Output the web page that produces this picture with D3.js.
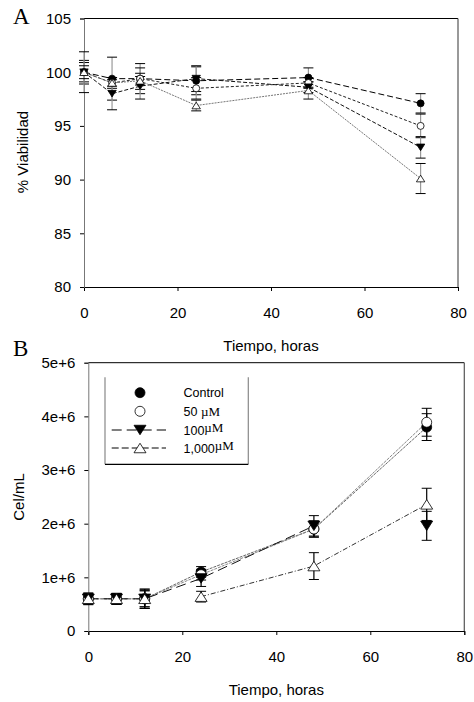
<!DOCTYPE html>
<html><head><meta charset="utf-8">
<script src="https://cdn.jsdelivr.net/npm/d3@7"></script>
<style>body{margin:0;background:#fff}svg{display:block}</style>
</head><body>
<svg id="c" width="474" height="702" font-family="Liberation Sans, Arial, sans-serif"></svg>
<script>
// ---------- DATA ----------
const times = [0, 6, 12, 24, 48, 72];
const seriesNames = ["Control", "50 µM", "100 µM", "1,000 µM"];
// Panel A: % viability
const viabControl = [100, 99.4, 99.4, 99.2, 99.5, 97.1];
const viab50      = [100, 99.0, 99.4, 98.5, 99.0, 95.0];
const viab100     = [100, 98.0, 98.7, 99.4, 98.6, 93.0];
const viab1000    = [100, 99.0, 99.2, 96.9, 98.3, 90.1];
const viabErrControl = [1.1, 2.0, 1.4, 1.3, 0.9, 0.9];
const viabErr50      = [0.9, 0.5, 1.0, 1.0, 0.5, 1.1];
const viabErr100     = [1.9, 1.5, 1.2, 1.2, 0.5, 1.0];
const viabErr1000    = [0.6, 0.3, 0.4, 0.5, 0.8, 1.4];
// Panel B: cells per mL
const cellControl = [0.6e6, 0.6e6, 0.6e6, 1.10e6, 1.90e6, 3.80e6];
const cell50      = [0.6e6, 0.6e6, 0.6e6, 1.05e6, 1.90e6, 3.89e6];
const cell100     = [0.6e6, 0.6e6, 0.6e6, 0.98e6, 1.96e6, 1.96e6];
const cell1000    = [0.6e6, 0.6e6, 0.6e6, 0.64e6, 1.21e6, 2.36e6];
const cellErrControl = [0.10e6, 0.10e6, 0.15e6, 0.10e6, 0.15e6, 0.25e6];
const cellErr50      = [0.08e6, 0.10e6, 0.18e6, 0.10e6, 0.15e6, 0.26e6];
const cellErr100     = [0.11e6, 0.10e6, 0.15e6, 0.15e6, 0.19e6, 0.27e6];
const cellErr1000    = [0.10e6, 0.10e6, 0.18e6, 0.10e6, 0.25e6, 0.30e6];
const lineStartB = [0, 0, 0, 3];
const lineEndB   = [5, 5, 4, 5];
const xTicks = [0, 20, 40, 60, 80];
const yTicksA = [80, 85, 90, 95, 100, 105];
const yTicksB = [0, 1e6, 2e6, 3e6, 4e6, 5e6];

// ---------- STYLE ----------
const SANS = "Liberation Sans, Arial, sans-serif";
const SERIF = "Liberation Serif, Times New Roman, serif";
const markers = ["circleF", "circleO", "triDown", "triUp"];
const dashA = ["6,3", "3,2", "4,2", "2,1"];
const colA  = ["#000", "#222", "#111", "#777"];
const dashB = ["3,1", "3,1", "10,5", "5,2,1,2"];
const colB  = ["#666", "#888", "#111", "#333"];

const svg = d3.select("#c");

function marker(g, type, x, y, s) {
  if (type === "circleF" || type === "circleO") {
    g.append("circle").attr("cx", x).attr("cy", y).attr("r", s)
      .attr("fill", type === "circleF" ? "#000" : "#fff").attr("stroke", "#000").attr("stroke-width", 0.8);
  } else {
    const h = s * 1.9, w = s * 1.2;
    const pts = type === "triDown"
      ? [[x - w, y - h / 2], [x + w, y - h / 2], [x, y + h / 2]]
      : [[x - w, y + h / 2], [x + w, y + h / 2], [x, y - h / 2]];
    g.append("path").attr("d", "M" + pts.map(p => p.join(",")).join("L") + "Z")
      .attr("fill", type === "triDown" ? "#000" : "#fff").attr("stroke", "#000").attr("stroke-width", 0.8);
  }
}

function panel(o) {
  const x = d3.scaleLinear().domain([0, 80]).range([o.left, o.right]);
  const y = d3.scaleLinear().domain(o.ydom).range([o.bottom, o.top]);
  const g = svg.append("g");
  // frame
  g.append("line").attr("x1", o.left).attr("x2", o.right).attr("y1", o.top).attr("y2", o.top).attr("stroke", "#000");
  g.append("line").attr("x1", o.right).attr("x2", o.right).attr("y1", o.top).attr("y2", o.bottom).attr("stroke", "#555").attr("stroke-width", 1.2);
  // axes
  const ax = g.append("g").attr("transform", `translate(0,${o.bottom})`)
    .call(d3.axisBottom(x).tickValues(xTicks).tickSize(4).tickPadding(16).tickFormat(d3.format("d")));
  ax.attr("font-family", null).attr("font-size", null);
  ax.select(".domain").attr("stroke", "#000");
  ax.selectAll("line").attr("stroke", "#000");
  ax.selectAll("text").attr("font-size", 15).attr("fill", "#000").attr("font-family", SANS);
  const ay = g.append("g").attr("transform", `translate(${o.left},0)`)
    .call(d3.axisLeft(y).tickValues(o.yTicks).tickSize(4).tickPadding(9).tickFormat(o.yfmt));
  ay.attr("font-family", null).attr("font-size", null);
  ay.select(".domain").attr("stroke", "#777");
  ay.selectAll("line").attr("stroke", "#000");
  ay.selectAll("text").attr("font-size", 15).attr("fill", "#000").attr("font-family", SANS);
  // titles
  g.append("text").attr("x", (o.left + o.right) / 2).attr("y", o.bottom + 64).attr("text-anchor", "middle")
    .attr("font-size", 15).attr("font-family", SANS).text("Tiempo, horas");
  g.append("text").attr("transform", `translate(${o.ytx},${o.yty}) rotate(-90)`).attr("text-anchor", "middle")
    .attr("font-size", 15).attr("font-family", SANS).text(o.ytitle);
  g.append("text").attr("x", o.lx).attr("y", o.ly).attr("font-family", SERIF)
    .attr("font-size", 23).text(o.letter);
  // lines
  o.vals.forEach((v, si) => {
    const st = o.start ? o.start[si] : 0, en = o.end ? o.end[si] : times.length - 1;
    const line = d3.line().defined((d, i) => i >= st && i <= en).x((d, i) => x(times[i])).y(d => y(d));
    g.append("path").attr("d", line(v)).attr("fill", "none").attr("stroke", o.cols[si])
      .attr("stroke-width", 1).attr("stroke-dasharray", o.dash[si]);
  });
  // error bars
  o.vals.forEach((v, si) => {
    v.forEach((d, i) => {
      const e = o.errs[si][i], cx = x(times[i]);
      g.append("line").attr("x1", cx).attr("x2", cx).attr("y1", y(d - e)).attr("y2", y(d + e))
        .attr("stroke", o.ebCol).attr("stroke-width", 1.2);
      [d - e, d + e].forEach(t => g.append("line").attr("x1", cx - 5).attr("x2", cx + 5)
        .attr("y1", y(t)).attr("y2", y(t)).attr("stroke", "#000").attr("stroke-width", 1));
    });
  });
  // markers
  [0, 1, 2, 3].forEach(si => {
    o.vals[si].forEach((d, i) => marker(g, markers[si], x(times[i]), y(d), o.ms));
  });
  return {x, y, g};
}

panel({
  left: 84, right: 458, top: 18.5, bottom: 287, ydom: [80, 105], yTicks: yTicksA, yfmt: d3.format("d"),
  vals: [viabControl, viab50, viab100, viab1000], errs: [viabErrControl, viabErr50, viabErr100, viabErr1000],
  dash: dashA, cols: colA, ebCol: "#999", ms: 3.5,
  ytitle: "% Viabilidad", ytx: 28, yty: 152, letter: "A", lx: 13, ly: 24
});

panel({
  left: 88.3, right: 464.3, top: 362.7, bottom: 631, ydom: [0, 5e6], yTicks: yTicksB,
  yfmt: d => d === 0 ? "0" : (d / 1e6) + "e+6",
  vals: [cellControl, cell50, cell100, cell1000], errs: [cellErrControl, cellErr50, cellErr100, cellErr1000],
  start: lineStartB, end: lineEndB,
  dash: dashB, cols: colB, ebCol: "#000", ms: 5,
  ytitle: "Cel/mL", ytx: 24, yty: 497, letter: "B", lx: 13, ly: 356
});

// legend
const lg = svg.append("g");
const L = {l: 105, r: 248.3, t: 377.3, b: 464.3};
lg.append("rect").attr("x", L.l).attr("y", L.t).attr("width", L.r - L.l).attr("height", L.b - L.t).attr("fill", "#fff").attr("stroke", "none");
lg.append("line").attr("x1", L.l).attr("x2", L.l).attr("y1", L.t).attr("y2", L.b).attr("stroke", "#888").attr("stroke-width", 1.2);
lg.append("line").attr("x1", L.r).attr("x2", L.r).attr("y1", L.t).attr("y2", L.b).attr("stroke", "#888").attr("stroke-width", 1.2);
lg.append("line").attr("x1", L.l).attr("x2", L.r).attr("y1", L.b).attr("y2", L.b).attr("stroke", "#000").attr("stroke-width", 1.2);
const rowsY = [392.7, 411.3, 430, 448];
seriesNames.forEach((name, si) => {
  const yy = rowsY[si];
  if (si >= 2) {
    lg.append("line").attr("x1", 111.7).attr("x2", 166).attr("y1", yy).attr("y2", yy)
      .attr("stroke", "#000").attr("stroke-width", 1).attr("stroke-dasharray", si === 2 ? "10,5" : "7,3");
  }
  marker(lg, markers[si], 140, yy, 5);
  const t = lg.append("text").attr("x", 183.5).attr("y", yy + 4.5).attr("font-size", 12.5).attr("font-family", SANS);
  if (si === 0) t.text(name);
  else {
    const parts = name.split(" ");
    t.append("tspan").text(parts[0] + (si === 1 ? " " : ""));
    t.append("tspan").attr("font-family", SERIF).attr("font-size", 13)
      .attr("dy", si === 1 ? 0 : -3).text(parts[1]);
  }
});
</script>
</body></html>
